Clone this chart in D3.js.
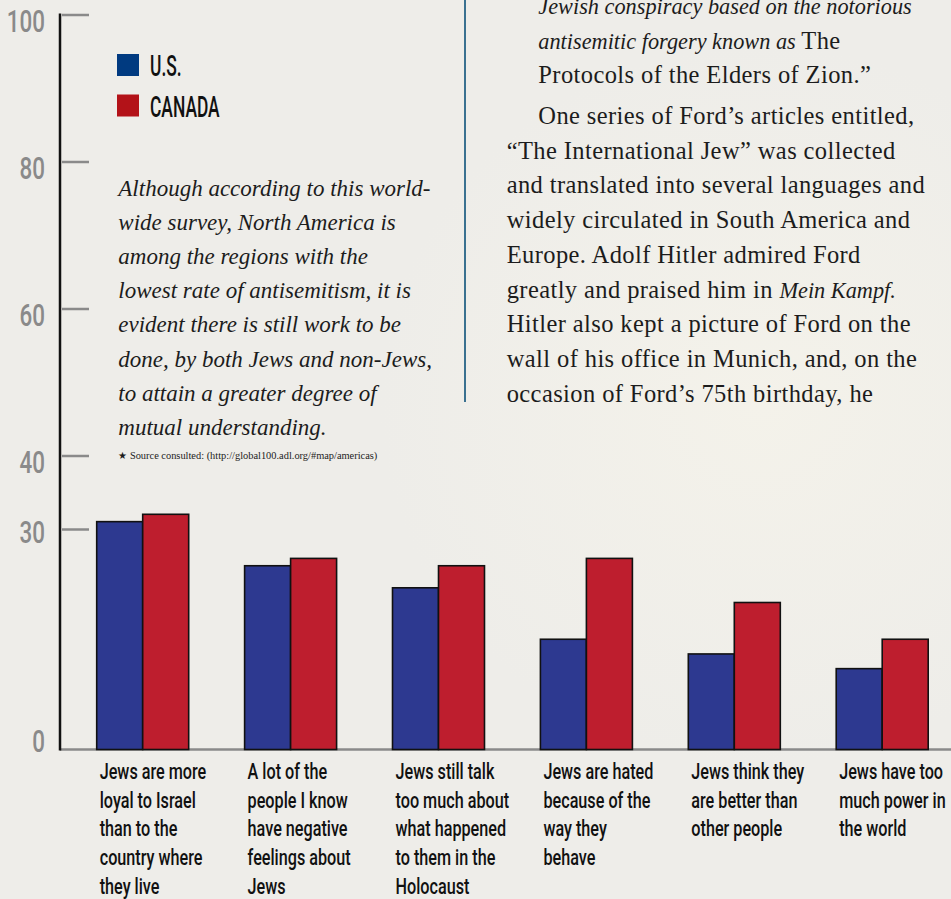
<!DOCTYPE html>
<html>
<head>
<meta charset="utf-8">
<script src="https://cdn.jsdelivr.net/npm/d3@7"></script>
<style>
  html, body { margin: 0; padding: 0; background: #eeede9; overflow: hidden; }
  svg { display: block; }
  .cond { font-family: Roboto, "Liberation Sans", sans-serif; font-weight: 500; }
  .serif { font-family: "Liberation Serif", "DejaVu Serif", serif; fill: #1c1c1c; }
</style>
</head>
<body>
<div id="chart"></div>
<script>
// survey data (percent agreeing)
var categories = ["loyal", "negative", "holocaust", "behave", "better", "power"];
var categoryLabels = [
  ["Jews are more", "loyal to Israel", "than to the", "country where", "they live"],
  ["A lot of the", "people I know", "have negative", "feelings about", "Jews"],
  ["Jews still talk", "too much about", "what happened", "to them in the", "Holocaust"],
  ["Jews are hated", "because of the", "way they", "behave"],
  ["Jews think they", "are better than", "other people"],
  ["Jews have too", "much power in", "the world"]
];
var usValues = [31, 25, 22, 15, 13, 11];
var canadaValues = [32, 26, 25, 26, 20, 15];
var seriesNames = ["U.S.", "CANADA"];
var tickValues = [0, 30, 40, 60, 80, 100];

var noteLines = [
  "Although according to this world-",
  "wide survey, North America is",
  "among the regions with the",
  "lowest rate of antisemitism, it is",
  "evident there is still work to be",
  "done, by both Jews and non-Jews,",
  "to attain a greater degree of",
  "mutual understanding."
];
var sourceNote = "\u2605 Source consulted: (http://global100.adl.org/#map/americas)";

// article column: each line is a list of [text, italic?] runs
var articleLines = [
  [["Jewish conspiracy based on the notorious", true]],
  [["antisemitic forgery known as ", true], ["The", false]],
  [["Protocols of the Elders of Zion.\u201d", false]],
  [["One series of Ford\u2019s articles entitled,", false]],
  [["\u201cThe International Jew\u201d was collected", false]],
  [["and translated into several languages and", false]],
  [["widely circulated in South America and", false]],
  [["Europe. Adolf Hitler admired Ford", false]],
  [["greatly and praised him in ", false], ["Mein Kampf.", true]],
  [["Hitler also kept a picture of Ford on the", false]],
  [["wall of his office in Munich, and, on the", false]],
  [["occasion of Ford\u2019s 75th birthday, he", false]]
];

var W = 951, H = 899;
var colors = { us: "#2d3990", ca: "#be1e2e" };
var legendColors = ["#003a80", "#b31218"];

var svg = d3.select("#chart").append("svg")
  .attr("width", W)
  .attr("height", H);

// background with faint lighter patch on the right
var defs = svg.append("defs");
var grad = defs.append("radialGradient")
  .attr("id", "bgGlow")
  .attr("cx", "0.8").attr("cy", "0.45").attr("r", "0.4");
grad.append("stop").attr("offset", "0%").attr("stop-color", "#f4f2ea");
grad.append("stop").attr("offset", "100%").attr("stop-color", "#eeede9");

svg.append("rect")
  .attr("width", W).attr("height", H)
  .attr("fill", "url(#bgGlow)");

// scales
var y = d3.scaleLinear().domain([0, 100]).range([749.5, 14.5]);

var x0 = d3.scaleBand()
  .domain(categories)
  .range([96.7, 928.2])
  .paddingInner(0.378)
  .paddingOuter(0);

var x1 = d3.scaleBand()
  .domain(["us", "ca"])
  .range([0, x0.bandwidth()]);

// baseline
svg.append("line")
  .attr("x1", 60).attr("x2", W)
  .attr("y1", y(0)).attr("y2", y(0))
  .attr("stroke", "#8a8a8a")
  .attr("stroke-width", 2.5);

// tick marks
var tickAxis = svg.append("g")
  .attr("transform", "translate(62,0)")
  .call(d3.axisRight(y).tickValues(tickValues.filter(function(d) { return d > 0; }))
    .tickSize(27).tickFormat(""));
tickAxis.select(".domain").remove();
tickAxis.selectAll(".tick line")
  .attr("stroke", "#8a8a8a")
  .attr("stroke-width", 2.5);

// vertical axis
svg.append("line")
  .attr("x1", 60).attr("x2", 60)
  .attr("y1", y(100) - 1).attr("y2", y(0) + 1)
  .attr("stroke", "#111")
  .attr("stroke-width", 2.5);

// tick labels
svg.selectAll("g.ylab")
  .data(tickValues)
  .enter()
  .append("g")
  .attr("class", "ylab")
  .attr("transform", function(d) {
    var ty = Math.min(y(d) + 17, y(0) + 2);
    if (d === 30) ty = y(d) + 14;
    return "translate(45," + ty + ") scale(0.7,1)";
  })
  .append("text")
  .attr("class", "cond")
  .attr("text-anchor", "end")
  .attr("font-size", 32)
  .attr("fill", "#8a8a8a")
  .text(function(d) { return d; });

// bars
var groups = svg.selectAll("g.grp")
  .data(categories)
  .enter()
  .append("g")
  .attr("class", "grp")
  .attr("transform", function(d) { return "translate(" + x0(d) + ",0)"; });

groups.selectAll("rect")
  .data(function(d, i) {
    return [{ key: "us", value: usValues[i] }, { key: "ca", value: canadaValues[i] }];
  })
  .enter()
  .append("rect")
  .attr("x", function(d) { return x1(d.key); })
  .attr("y", function(d) { return y(d.value); })
  .attr("width", x1.bandwidth())
  .attr("height", function(d) { return y(0) - y(d.value); })
  .attr("fill", function(d) { return colors[d.key]; })
  .attr("stroke", "#111")
  .attr("stroke-width", 1.6);

// category labels
groups.append("g")
  .attr("transform", "translate(3,779) scale(0.72,1)")
  .selectAll("text")
  .data(function(d, i) { return categoryLabels[i]; })
  .enter()
  .append("text")
  .attr("class", "cond")
  .attr("font-size", 22.5)
  .attr("fill", "#111")
  .attr("y", function(d, i) { return i * 28.7; })
  .text(function(d) { return d; });

// legend
var legend = svg.selectAll("g.leg")
  .data(seriesNames)
  .enter()
  .append("g")
  .attr("class", "leg")
  .attr("transform", function(d, i) { return "translate(117," + (54 + i * 40.5) + ")"; });

legend.append("rect")
  .attr("width", 22).attr("height", 22)
  .attr("fill", function(d, i) { return legendColors[i]; });

legend.append("g")
  .attr("transform", "translate(33,22) scale(0.6,1)")
  .append("text")
  .attr("class", "cond")
  .attr("font-size", 29)
  .attr("fill", "#111")
  .text(function(d) { return d; });

// italic note
svg.append("g")
  .selectAll("text")
  .data(noteLines)
  .enter()
  .append("text")
  .attr("class", "serif")
  .attr("font-style", "italic")
  .attr("font-size", 23)
  .attr("x", 118.3)
  .attr("y", function(d, i) { return 196 + i * 34.1; })
  .text(function(d) { return d; });

svg.append("text")
  .attr("class", "serif")
  .attr("font-size", 10.4)
  .attr("x", 118.3)
  .attr("y", 458.5)
  .text(sourceNote);

// article column
svg.append("line")
  .attr("x1", 465).attr("x2", 465)
  .attr("y1", 0).attr("y2", 402)
  .attr("stroke", "#3a7190")
  .attr("stroke-width", 2);

var articleY = [13.5, 48.5, 83.3, 124, 158.7, 193.4, 228.1, 262.8, 297.5, 332.2, 366.9, 401.6];
var articleX = [538.3, 538.3, 538.3, 538.3, 506.7, 506.7, 506.7, 506.7, 506.7, 506.7, 506.7, 506.7];

var art = svg.append("g")
  .selectAll("text")
  .data(articleLines)
  .enter()
  .append("text")
  .attr("class", "serif")
  .attr("x", function(d, i) { return articleX[i]; })
  .attr("y", function(d, i) { return articleY[i]; });

art.selectAll("tspan")
  .data(function(d) { return d; })
  .enter()
  .append("tspan")
  .attr("font-style", function(d) { return d[1] ? "italic" : "normal"; })
  .attr("font-size", function(d) { return d[1] ? 22.3 : 24.5; })
  .attr("letter-spacing", function(d) { return d[1] ? 0 : 0.4; })
  .text(function(d) { return d[0]; });
</script>
</body>
</html>
